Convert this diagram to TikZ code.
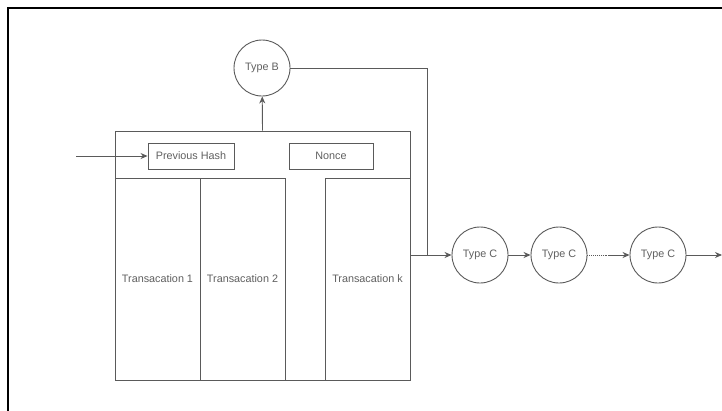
\documentclass[tikz,border=0pt]{standalone}
\usepackage{fontspec}
\setmainfont{Liberation Sans}
\usetikzlibrary{arrows.meta}
\definecolor{ln}{HTML}{5A5A5A}
\definecolor{tx}{HTML}{606060}
\tikzset{
  txbox/.style={draw=ln,line width=.9pt,minimum width=85pt,minimum height=202pt,inner sep=0pt},
  fieldbox/.style={draw=ln,line width=.9pt,minimum height=26pt,inner sep=0pt},
  typenode/.style={draw=ln,line width=.9pt,circle,minimum size=56pt,inner sep=0pt},
  conn/.style={ln,line width=.9pt,-{Stealth[length=7pt,width=6pt]}},
}
\begin{document}
\begin{tikzpicture}[x=1pt,y=-1pt,font=\fontsize{10.8}{12}\selectfont,text=tx]
	\clip (0,0) rectangle (722,410);
	\fill[white] (0,0) rectangle (722,410);
	\draw[line width=1.6pt] (8,8) rectangle (760,440);
	% block
	\node[draw=ln,line width=.9pt,minimum width=295pt,minimum height=249pt,inner sep=0pt] (blk) at (262.5,255.5) {};
	\node[fieldbox,minimum width=86pt] (prevhash) at (191,156) {Previous Hash};
	\node[fieldbox,minimum width=84pt] (nonce) at (331,156) {Nonce};
	\foreach \n/\x/\t in {tx1/157.5/1,tx2/242.5/2,txk/367.5/k}
		\node[txbox] (\n) at (\x,279) {Transacation \t};
	% types
	\node[typenode] (typeB) at (262,68) {Type B};
	\node[typenode] (c1) at (480,255) {Type C};
	\node[typenode] (c2) at (559,255) {Type C};
	\node[typenode] (c3) at (658,255) {Type C};
	\coordinate (in) at (76,156);
	\coordinate (j) at (427,255);
	\coordinate (d) at (608,255);
	\coordinate (out) at (722,255);
	\draw[conn] (in) -- (prevhash);
	\draw[conn] (blk.north) -- (typeB);
	\draw[ln,line width=.9pt] (typeB.east) -| (j);
	\draw[ln,line width=.9pt] (blk.east |- j) -- (j);
	\draw[conn] (j) -- (c1);
	\draw[conn] (c1) -- (c2);
	\draw[ln,line width=.9pt,densely dotted] (c2) -- (d);
	\draw[conn] (d) -- (c3);
	\draw[conn] (c3) -- (out);
\end{tikzpicture}
\end{document}
